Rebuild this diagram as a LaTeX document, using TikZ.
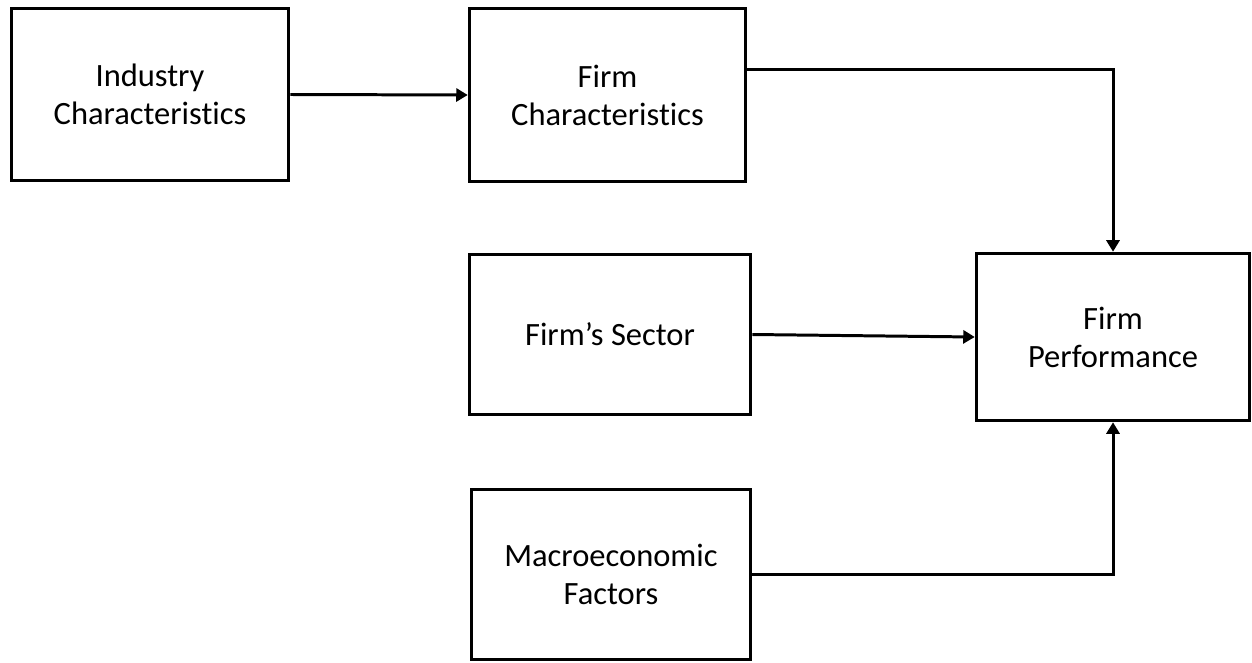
\documentclass[tikz,border=0pt]{standalone}
\usepackage{fontspec}
\setmainfont{Carlito}[Ligatures=NoCommon]
\usetikzlibrary{arrows.meta}
\begin{document}
\begin{tikzpicture}[>={Triangle[length=0.23cm,width=0.26cm]},
	box/.style={draw, line width=2pt, align=center, font=\fontsize{18.5}{21.6}\selectfont, inner sep=0pt},
	link/.style={->, line width=1.7pt}]
	% 画布
	\useasboundingbox (0,0) rectangle (25.04,13.24);
	
	% 方框
	\node[box, minimum width=5.54cm, minimum height=3.44cm] (ind) at (3.0,11.35) {Industry\\Characteristics};
	\node[box, minimum width=5.52cm, minimum height=3.46cm] (fchar) at (12.15,11.34) {Firm\\Characteristics};
	\node[box, minimum width=5.62cm, minimum height=3.2cm] (sector) at (12.2,6.55) {Firm’s Sector};
	\node[box, minimum width=5.58cm, minimum height=3.4cm] (macro) at (12.22,1.75) {Macroeconomic\\Factors};
	\node[box, minimum width=5.46cm, minimum height=3.34cm] (perf) at (22.26,6.5) {Firm\\Performance};
	
	% 连线
	\coordinate (fcout) at ([yshift=-1.26cm]fchar.north east);
	\draw[link] (ind.east) -- (fchar.west);
	\draw[link] (fcout) -| (perf.north);
	\draw[link] (sector.east) -- (perf.west);
	\draw[link] (macro.east) -| (perf.south);
\end{tikzpicture}
\end{document}
